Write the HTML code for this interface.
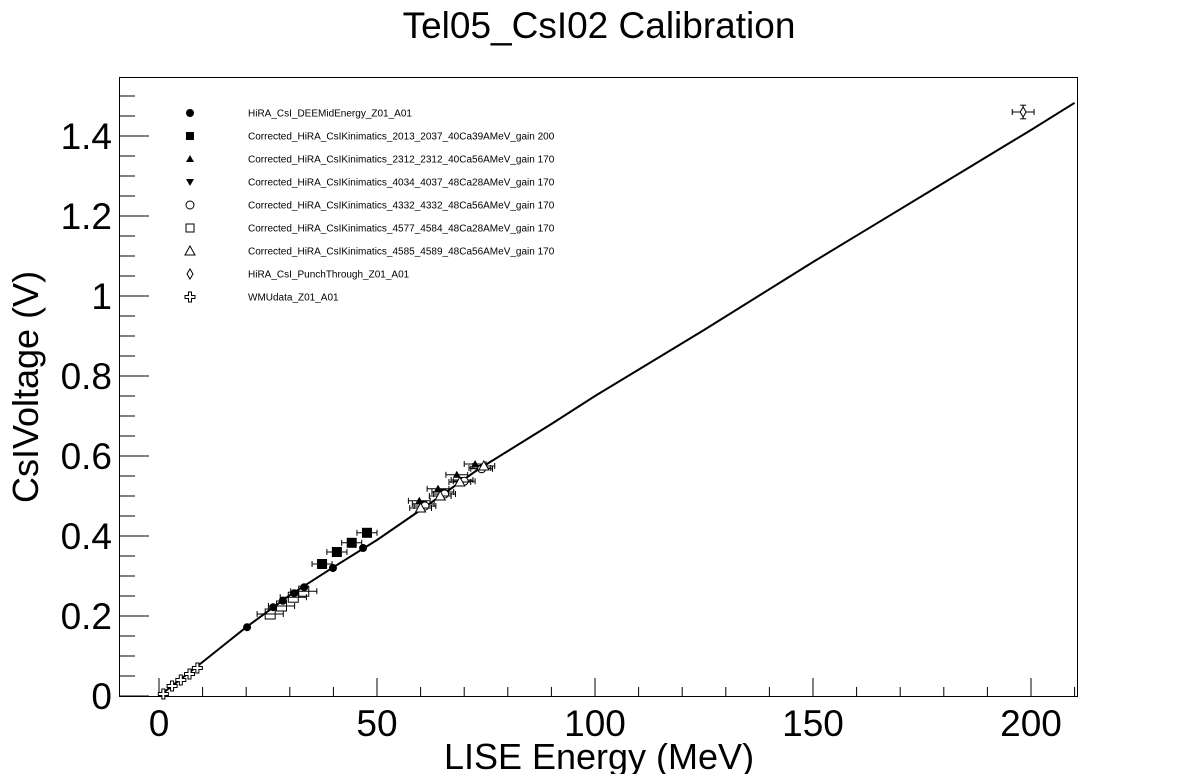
<!DOCTYPE html>
<html><head><meta charset="utf-8"><style>
body{margin:0;background:#fff;}
svg{display:block;font-family:"Liberation Sans",sans-serif;}
</style></head><body>
<svg id="chart" width="1198" height="774" viewBox="0 0 1198 774">
<rect width="1198" height="774" fill="#fff"/>
<text x="599" y="38" text-anchor="middle" font-size="37">Tel05_CsI02 Calibration</text>
<rect x="119.5" y="77.5" width="958" height="619" fill="none" stroke="#000" stroke-width="1"/>
<g id="axes"></g>
<g id="fit"></g>
<g id="marks"></g>
<g id="legend"></g>
<text x="599" y="769" text-anchor="middle" font-size="36">LISE Energy (MeV)</text>
<text transform="translate(38,387) rotate(-90)" text-anchor="middle" font-size="36">CsIVoltage (V)</text>
</svg>
<script>
const xTicks=[0,50,100,150,200];
const yTicks=[0,0.2,0.4,0.6,0.8,1,1.2,1.4];
const yTickLabels=["0","0.2","0.4","0.6","0.8","1","1.2","1.4"];
const fitE=[0.5,10,20,30,40,50,60,73,90,100,125,150,175,200,210];
const fitV=[0.004,0.085,0.172,0.252,0.322,0.39,0.465,0.565,0.68,0.75,0.915,1.085,1.25,1.415,1.483];
const dmE=[20.2,26.2,28.4,31.0,33.3,39.9,46.8];
const dmV=[0.172,0.222,0.238,0.257,0.272,0.32,0.37];
const k2013E=[37.4,40.8,44.2,47.7];
const k2013V=[0.33,0.36,0.383,0.408];
const k2312E=[59.7,64.0,68.3,72.5];
const k2312V=[0.488,0.518,0.553,0.58];
const k4034E=[60.6,65.1,69.5,73.6];
const k4034V=[0.48,0.51,0.54,0.57];
const k4332E=[61.0,65.5,70.0,74.0];
const k4332V=[0.475,0.505,0.537,0.568];
const k4577E=[25.5,28.1,30.8,33.2];
const k4577V=[0.205,0.225,0.247,0.262];
const k4585E=[60.0,64.5,69.0,74.5];
const k4585V=[0.47,0.50,0.535,0.575];
const ptE=[198.2];
const ptV=[1.46];
const wmuE=[1.0,3.0,5.0,7.0,8.8];
const wmuV=[0.005,0.025,0.04,0.055,0.07];
const legendLabels=["HiRA_CsI_DEEMidEnergy_Z01_A01","Corrected_HiRA_CsIKinimatics_2013_2037_40Ca39AMeV_gain 200","Corrected_HiRA_CsIKinimatics_2312_2312_40Ca56AMeV_gain 170","Corrected_HiRA_CsIKinimatics_4034_4037_48Ca28AMeV_gain 170","Corrected_HiRA_CsIKinimatics_4332_4332_48Ca56AMeV_gain 170","Corrected_HiRA_CsIKinimatics_4577_4584_48Ca28AMeV_gain 170","Corrected_HiRA_CsIKinimatics_4585_4589_48Ca56AMeV_gain 170","HiRA_CsI_PunchThrough_Z01_A01","WMUdata_Z01_A01"];

const NS="http://www.w3.org/2000/svg";
const X=e=>159+4.36*e;
const Y=v=>696-400*v;
function mk(tag,attrs,parent){const el=document.createElementNS(NS,tag);for(const k in attrs)el.setAttribute(k,attrs[k]);parent.appendChild(el);return el;}
const axes=document.getElementById('axes');
for(let e=0;e<=210;e+=10){const maj=e%50===0;const t=mk('line',{x1:X(e),x2:X(e),y1:696,y2:maj?678:687,stroke:'#000'},axes);

}
xTicks.forEach(e=>{const t=mk('text',{x:X(e),y:736,'text-anchor':'middle','font-size':'37'},axes);t.textContent=String(e);

});
for(let i=0;i<=31;i++){const v=i*0.05;const y=Y(v);if(y<77)break;const maj=i%4===0;const t=mk('line',{x1:120,x2:maj?149:135,y1:y,y2:y,stroke:'#000'},axes);

}
yTicks.forEach((v,i)=>{const t=mk('text',{x:112,y:Y(v)+13,'text-anchor':'end','font-size':'37'},axes);t.textContent=yTickLabels[i];

});
const fit=document.getElementById('fit');
const fl=mk('polyline',{points:fitE.map((e,i)=>X(e)+','+Y(fitV[i])).join(' '),fill:'none',stroke:'#000','stroke-width':2},fit);


function marker(g,type,cx,cy,s){
 s=s||1;
 switch(type){
 case 'fcirc':return mk('circle',{cx,cy,r:4*s,fill:'#000'},g);
 case 'fsq':return mk('rect',{x:cx-5*s,y:cy-5*s,width:10*s,height:10*s,fill:'#000'},g);
 case 'ftri':return mk('polygon',{points:`${cx},${cy-4*s} ${cx-4*s},${cy+3*s} ${cx+4*s},${cy+3*s}`,fill:'#000'},g);
 case 'ftrid':return mk('polygon',{points:`${cx},${cy+4*s} ${cx-4*s},${cy-3*s} ${cx+4*s},${cy-3*s}`,fill:'#000'},g);
 case 'ocirc':return mk('circle',{cx,cy,r:4*s,fill:'#fff',stroke:'#000'},g);
 case 'osq':return mk('rect',{x:cx-5*s,y:cy-5*s,width:10*s,height:10*s,fill:'none',stroke:'#000'},g);
 case 'otri':return mk('polygon',{points:`${cx},${cy-5*s} ${cx-5*s},${cy+4*s} ${cx+5*s},${cy+4*s}`,fill:'#fff',stroke:'#000'},g);
 case 'odia':return mk('polygon',{points:`${cx},${cy-5*s} ${cx-3*s},${cy} ${cx},${cy+5*s} ${cx+3*s},${cy}`,fill:'#fff',stroke:'#000'},g);
 case 'ocross':return mk('path',{d:`M${cx-1.5},${cy-5}h3v3.5h3.5v3h-3.5v3.5h-3v-3.5h-3.5v-3h3.5z`,fill:'#fff',stroke:'#000'},g);
 }
}
const marks=document.getElementById('marks');
const series=[
 [dmE,dmV,'fcirc',0,0,'deemid'],
 [k2013E,k2013V,'fsq',2.3,0,'kin-2013'],
 [k2312E,k2312V,'ftri',2.5,0,'kin-2312'],
 [k4034E,k4034V,'ftrid',2.5,0,'kin-4034'],
 [k4332E,k4332V,'ocirc',2.5,0,'kin-4332'],
 [k4577E,k4577V,'osq',3,0,'kin-4577'],
 [k4585E,k4585V,'otri',2.5,0,'kin-4585'],
 [ptE,ptV,'odia',2.5,0.017,'punchthrough'],
 [wmuE,wmuV,'ocross',0,0,'wmu']];
series.forEach(s=>{
 const g=mk('g',{},marks);
 
 
 s[0].forEach((e,i)=>{
  const cx=X(e),cy=Y(s[1][i]);
  if(s[3]>0){mk('line',{x1:X(e-s[3]),x2:X(e+s[3]),y1:cy,y2:cy,stroke:'#000'},g);
   mk('line',{x1:X(e-s[3]),x2:X(e-s[3]),y1:cy-3,y2:cy+3,stroke:'#000'},g);
   mk('line',{x1:X(e+s[3]),x2:X(e+s[3]),y1:cy-3,y2:cy+3,stroke:'#000'},g);}
  if(s[4]>0){const y1=Y(s[1][i]+s[4]),y2=Y(s[1][i]-s[4]);mk('line',{x1:cx,x2:cx,y1,y2,stroke:'#000'},g);
   mk('line',{x1:cx-3,x2:cx+3,y1:y1,y2:y1,stroke:'#000'},g);mk('line',{x1:cx-3,x2:cx+3,y1:y2,y2:y2,stroke:'#000'},g);}
  const m=marker(g,s[2],cx,cy);
  
  
 });
});
const leg=document.getElementById('legend');


const lt=['fcirc','fsq','ftri','ftrid','ocirc','osq','otri','odia','ocross'];
legendLabels.forEach((lab,i)=>{
 const y=113+i*23;
 const g=mk('g',{},leg);
 
 
 marker(g,lt[i],190,y,lt[i]==='osq'||lt[i]==='fsq'?0.8:1);
 const t=mk('text',{x:248,y:y+3.5,'font-size':'10'},g);t.textContent=lab;
});
</script>
</body></html>
